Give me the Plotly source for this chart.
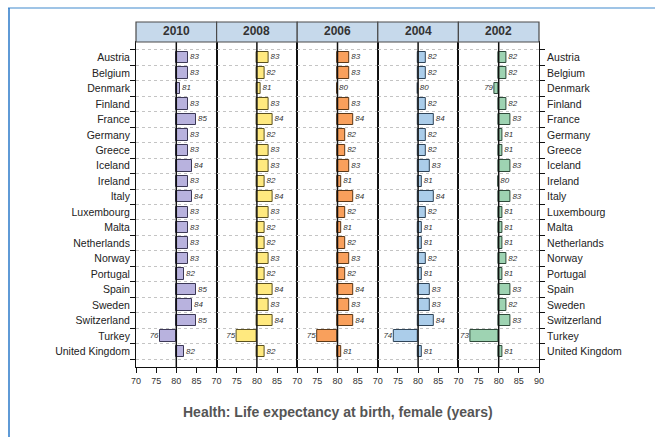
import plotly.graph_objects as go
from plotly.subplots import make_subplots

countries = ["Austria", "Belgium", "Denmark", "Finland", "France", "Germany", "Greece",
             "Iceland", "Ireland", "Italy", "Luxembourg", "Malta", "Netherlands", "Norway",
             "Portugal", "Spain", "Sweden", "Switzerland", "Turkey", "United Kingdom"]

years = ["2010", "2008", "2006", "2004", "2002"]

y2010 = [83, 83, 81, 83, 85, 83, 83, 84, 83, 84, 83, 83, 83, 83, 82, 85, 84, 85, 76, 82]
y2008 = [83, 82, 81, 83, 84, 82, 83, 83, 82, 84, 83, 82, 82, 83, 82, 84, 83, 84, 75, 82]
y2006 = [83, 83, 80, 83, 84, 82, 82, 83, 81, 84, 82, 81, 82, 83, 82, 84, 83, 84, 75, 81]
y2004 = [82, 82, 80, 82, 84, 82, 82, 83, 81, 84, 82, 81, 81, 82, 81, 83, 83, 84, 74, 81]
y2002 = [82, 82, 79, 82, 83, 81, 81, 83, 80, 83, 81, 81, 81, 82, 81, 83, 82, 83, 73, 81]

series = [y2010, y2008, y2006, y2004, y2002]
fills = ["#b8b2de", "#ffe97f", "#f9a05c", "#abcdea", "#9ed3b2"]
edges = ["#3c3856", "#5a5020", "#5a3818", "#2f4458", "#2f4a3a"]

FONT = "Arial"
BASE = 80
W, H = 655, 437
L, R, T, B = 136, 539, 42, 367  # plot area in pixels


def px_x(p):
    return (p - L) / (R - L)


def px_y(p):
    return (B - p) / (B - T)


fig = make_subplots(rows=1, cols=5, horizontal_spacing=0)

idx = list(range(len(countries)))
for c, vals in enumerate(series):
    col = c + 1
    fig.add_trace(go.Bar(
        y=idx, x=[v - BASE for v in vals], base=BASE, orientation="h",
        width=0.74, marker=dict(color=fills[c], line=dict(color=edges[c], width=1)),
        showlegend=False, hoverinfo="skip"), row=1, col=col)
    fig.add_trace(go.Scatter(
        y=idx, x=vals, mode="text",
        text=[f"\u2009{v}" if v >= BASE else f"{v}\u2009" for v in vals],
        textposition=["middle right" if v >= BASE else "middle left" for v in vals],
        textfont=dict(size=8, color="#333333", family=FONT, style="italic"),
        cliponaxis=False, showlegend=False, hoverinfo="skip"), row=1, col=col)

    # solid baseline at 80
    xref = "x" if col == 1 else f"x{col}"
    fig.add_shape(type="line", xref=xref, yref="paper", x0=BASE, x1=BASE, y0=0, y1=1,
                  line=dict(color="#111111", width=1.5))
    # year header strip
    fig.add_shape(type="rect", xref=f"{xref} domain", yref="paper",
                  x0=0, x1=1, y0=1, y1=1 + 20 / (B - T),
                  fillcolor="#c6d9eb", line=dict(color="#4a4a4a", width=1.2))
    fig.add_annotation(xref=f"{xref} domain", yref="paper", x=0.5, y=1 + 10.5 / (B - T),
                       yanchor="middle", xanchor="center",
                       text=f"<b>{years[c]}</b>", showarrow=False,
                       font=dict(size=12, color="#333333", family=FONT))

    tv = [70, 75, 80, 85, 90] if col == 5 else [70, 75, 80, 85]
    fig.update_xaxes(range=[70, 90], tickvals=tv, ticktext=[str(t) for t in tv],
                     ticks="outside", ticklen=5, tickcolor="#111111", tickwidth=1,
                     showline=True, mirror=True, linecolor="#111111", linewidth=1,
                     showgrid=False, zeroline=False,
                     tickfont=dict(size=9, color="#333333", family=FONT),
                     row=1, col=col)
    fig.update_yaxes(range=[20, -1], tickvals=idx, ticktext=countries,
                     ticks="", showgrid=False, zeroline=False,
                     showline=True, mirror=True, linecolor="#111111", linewidth=1,
                     showticklabels=(col in (1, 5)),
                     side="right" if col == 5 else "left",
                     ticklabelstandoff=5 if col == 5 else 3,
                     tickfont=dict(size=10.5, color="#222222", family=FONT),
                     minor=dict(tickvals=[i - 0.5 for i in range(len(countries) + 1)],
                                ticks="outside" if col in (1, 5) else "",
                                ticklen=5, tickcolor="#111111",
                                showgrid=True, gridcolor="#c4c4c4", griddash="dot",
                                gridwidth=1),
                     row=1, col=col)
    if col > 1:
        fig.update_yaxes(matches="y", row=1, col=col)

# page frame lines
fig.add_shape(type="line", xref="paper", yref="paper",
              x0=px_x(8), x1=px_x(W), y0=px_y(8), y1=px_y(8),
              line=dict(color="#7fb0de", width=1.5))
fig.add_shape(type="line", xref="paper", yref="paper",
              x0=px_x(9), x1=px_x(9), y0=px_y(8), y1=px_y(H + 2),
              line=dict(color="#2a78c8", width=1.5))

fig.add_annotation(xref="paper", yref="paper", x=px_x(338), y=px_y(412),
                   yanchor="middle", xanchor="center",
                   text="<b>Health: Life expectancy at birth, female (years)</b>",
                   showarrow=False,
                   font=dict(size=14, color="#555555", family=FONT))

fig.update_layout(
    width=W, height=H,
    margin=dict(l=L, r=W - R, t=T, b=H - B),
    paper_bgcolor="white", plot_bgcolor="white",
    bargap=0, barmode="overlay",
)

fig.write_html("out.html")
